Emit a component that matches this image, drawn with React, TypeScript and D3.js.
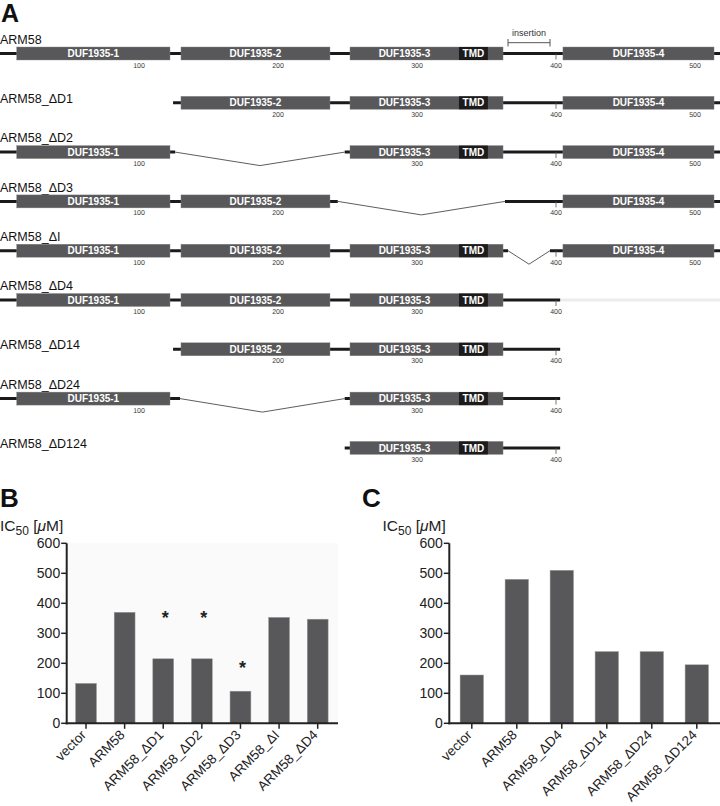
import React from 'react';
import * as d3 from 'd3';

// ---------- Panel A data ----------
const proteinLength = 518;
const domainNames = ['DUF1935-1', 'DUF1935-2', 'DUF1935-3', 'DUF1935-4'];
const domainStarts = [12, 130.2, 251.8, 405];
const domainEnds = [122.3, 237.4, 361.9, 513.7];
const tmdRange = [330.2, 351];
const insertionRange = [365.5, 395.7];
const residueTicks = [100, 200, 300, 400, 500];

const constructNames = ['ARM58', 'ARM58_ΔD1', 'ARM58_ΔD2', 'ARM58_ΔD3', 'ARM58_ΔI', 'ARM58_ΔD4', 'ARM58_ΔD14', 'ARM58_ΔD24', 'ARM58_ΔD124'];
const constructLines: number[][][] = [
  [[0, 518]],
  [[124.5, 518]],
  [[0, 126], [248, 518]],
  [[0, 243], [363.3, 518]],
  [[0, 365.5], [395.7, 518]],
  [[0, 403]],
  [[124.5, 403]],
  [[0, 129.5], [248, 403]],
  [[248, 403]],
];
const constructGaps: number[][][] = [[], [], [[126, 248]], [[243, 363.3]], [[365.5, 395.7]], [], [], [[129.5, 248]], []];
const constructFaint: number[][][] = [[], [], [], [], [], [[403, 518]], [], [], []];
const constructDomains = [[0, 1, 2, 3], [1, 2, 3], [0, 2, 3], [0, 1, 3], [0, 1, 2, 3], [0, 1, 2], [1, 2], [0, 2], [2]];

// ---------- Panel B / C data ----------
const catsB = ['vector', 'ARM58', 'ARM58_ΔD1', 'ARM58_ΔD2', 'ARM58_ΔD3', 'ARM58_ΔI', 'ARM58_ΔD4'];
const valsB = [133, 370, 215, 215, 107, 353, 347];
const starsB: (number | null)[] = [null, null, 367, 367, 200, null, null];
const catsC = ['vector', 'ARM58', 'ARM58_ΔD4', 'ARM58_ΔD14', 'ARM58_ΔD24', 'ARM58_ΔD124'];
const valsC = [161, 480, 510, 239, 239, 195];
const yTicks = [0, 100, 200, 300, 400, 500, 600];

const FONT = "'Liberation Sans', Arial, Helvetica, sans-serif";
const BAR = '#58585a';
const TMD = '#1c1a1b';

function PanelA() {
  const x = d3.scaleLinear().domain([0, proteinLength]).range([0, 720]);
  const rowTop = d3.scaleLinear().domain([0, 8]).range([47, 47 + 8 * 49.3]);
  const barH = 13;
  const dip = 13.5;
  return (
    <g>
      <text x={1} y={22} fontSize={25} fontWeight="bold" fontFamily={FONT} fill="#111">A</text>
      {/* insertion bracket */}
      <g stroke="#555" strokeWidth={1} fill="none">
        <line x1={x(insertionRange[0])} x2={x(insertionRange[1])} y1={42.7} y2={42.7} />
        <line x1={x(insertionRange[0])} x2={x(insertionRange[0])} y1={39} y2={46.5} />
        <line x1={x(insertionRange[1])} x2={x(insertionRange[1])} y1={39} y2={46.5} />
      </g>
      <text x={(x(insertionRange[0]) + x(insertionRange[1])) / 2} y={36} fontSize={9} textAnchor="middle" fontFamily={FONT} fill="#333">insertion</text>
      {constructNames.map((name, i) => {
        const top = rowTop(i);
        const cy = top + barH / 2;
        const lines = constructLines[i];
        const startsLate = lines[0][0] > 50;
        const inLine = (r: number) => lines.some(([s, e]) => r >= s && r <= e);
        return (
          <g key={name}>
            <text x={0} y={startsLate ? top + 6.5 : top - 3.3} fontSize={12.5} fontFamily={FONT} fill="#111">{name}</text>
            {constructFaint[i].map(([s, e], k) => (
              <line key={'f' + k} x1={x(s)} x2={x(e)} y1={cy} y2={cy} stroke="#ececec" strokeWidth={3} />
            ))}
            {lines.map(([s, e], k) => (
              <line key={'l' + k} x1={x(s)} x2={x(e)} y1={cy} y2={cy} stroke="#1a1a1a" strokeWidth={3} />
            ))}
            {constructGaps[i].map(([s, e], k) => (
              <polyline key={'g' + k} fill="none" stroke="#333" strokeWidth={0.8}
                points={`${x(s)},${cy} ${(x(s) + x(e)) / 2},${cy + dip} ${x(e)},${cy}`} />
            ))}
            {residueTicks.filter(inLine).map((t) => (
              <g key={'t' + t}>
                <line x1={x(t)} x2={x(t)} y1={cy} y2={cy + 6} stroke="#555" strokeWidth={0.8} />
                <text x={x(t)} y={top + 20.5} fontSize={7} textAnchor="middle" fontFamily={FONT} fill="#3a3a3a" style={{ textRendering: 'geometricPrecision' }}>{t}</text>
              </g>
            ))}
            {constructDomains[i].map((d) => {
              const x0 = x(domainStarts[d]);
              const x1 = x(domainEnds[d]);
              const hasTmd = d === 2;
              const labelEnd = hasTmd ? x(tmdRange[0]) : x1;
              return (
                <g key={'d' + d}>
                  <rect x={x0} y={top} width={x1 - x0} height={barH} fill={BAR} stroke="#8a8a8a" strokeWidth={0.4} />
                  {hasTmd && (
                    <g>
                      <rect x={x(tmdRange[0])} y={top} width={x(tmdRange[1]) - x(tmdRange[0])} height={barH} fill={TMD} />
                      <text x={(x(tmdRange[0]) + x(tmdRange[1])) / 2} y={cy + 3.6} fontSize={10} fontWeight="bold" textAnchor="middle" fontFamily={FONT} fill="#fff">TMD</text>
                    </g>
                  )}
                  <text x={(x0 + labelEnd) / 2} y={cy + 3.6} fontSize={10} fontWeight="bold" textAnchor="middle" fontFamily={FONT} fill="#fff">{domainNames[d]}</text>
                </g>
              );
            })}
          </g>
        );
      })}
    </g>
  );
}

function BarPanel(props: {
  letter: string; letterX: number; titleX: number; axisX: number; axisEnd: number; xAxisEnd: number;
  cats: string[]; vals: number[]; stars?: (number | null)[]; padding: number; bg?: boolean;
}) {
  const { letter, letterX, titleX, axisX, axisEnd, xAxisEnd, cats, vals, stars, padding, bg } = props;
  const y = d3.scaleLinear().domain([0, 600]).range([723.3, 543.3]);
  const x = d3.scaleBand<string>().domain(cats).range([axisX, axisEnd]).paddingInner(padding).paddingOuter(padding / 2);
  const y0 = y(0);
  return (
    <g fontFamily={FONT}>
      <text x={letterX} y={506.5} fontSize={26} fontWeight="bold" fill="#111">{letter}</text>
      <text x={titleX} y={531} fontSize={15.5} fill="#222">
        IC<tspan fontSize={12} dy={3.5}>50</tspan><tspan dy={-3.5}> [</tspan><tspan fontStyle="italic">μ</tspan>M]
      </text>
      {bg && <rect x={axisX} y={y(600)} width={xAxisEnd - axisX} height={y0 - y(600)} fill="#fafafa" />}
      {cats.map((c, i) => (
        <rect key={c} x={x(c)} y={y(vals[i])} width={x.bandwidth()} height={y0 - y(vals[i])} fill={BAR} stroke="#9a9a9a" strokeWidth={0.5} />
      ))}
      {stars && cats.map((c, i) => stars[i] == null ? null : (
        <text key={'s' + c} x={(x(c) as number) + x.bandwidth() / 2 + 2} y={y(stars[i] as number) + 10.5} fontSize={18} fontWeight="bold" textAnchor="middle" fill="#222">*</text>
      ))}
      {/* y axis */}
      <line x1={axisX} x2={axisX} y1={y(600)} y2={y0 + 1} stroke="#222" strokeWidth={2} />
      {yTicks.map((t) => (
        <g key={t}>
          <line x1={axisX - 5.5} x2={axisX} y1={y(t)} y2={y(t)} stroke="#222" strokeWidth={1.5} />
          <text x={axisX - 6.5} y={y(t)} dy="0.36em" fontSize={14} textAnchor="end" fill="#222">{t}</text>
        </g>
      ))}
      {/* x axis */}
      <line x1={axisX - 1} x2={xAxisEnd} y1={y0} y2={y0} stroke="#222" strokeWidth={2} />
      {cats.map((c) => {
        const cx = (x(c) as number) + x.bandwidth() / 2;
        return (
          <g key={'x' + c}>
            <line x1={cx} x2={cx} y1={y0} y2={y0 + 5.5} stroke="#222" strokeWidth={1.5} />
            <text transform={`translate(${cx + 1},${y0 + 12.5}) rotate(-45)`} fontSize={13.5} textAnchor="end" fill="#222">{c}</text>
          </g>
        );
      })}
    </g>
  );
}

export default function App() {
  return (
    <svg width={720} height={806} viewBox="0 0 720 806" style={{ position: 'absolute', left: 0, top: 0, display: 'block', background: '#fff' }}>
      <rect x={0} y={0} width={720} height={806} fill="#fff" />
      <PanelA />
      <BarPanel letter="B" letterX={0} titleX={0} axisX={66.7} axisEnd={337} xAxisEnd={338}
        cats={catsB} vals={valsB} stars={starsB} padding={0.46} bg />
      <BarPanel letter="C" letterX={362} titleX={382.5} axisX={449.3} axisEnd={719.3} xAxisEnd={720}
        cats={catsC} vals={valsC} padding={0.48} />
    </svg>
  );
}
